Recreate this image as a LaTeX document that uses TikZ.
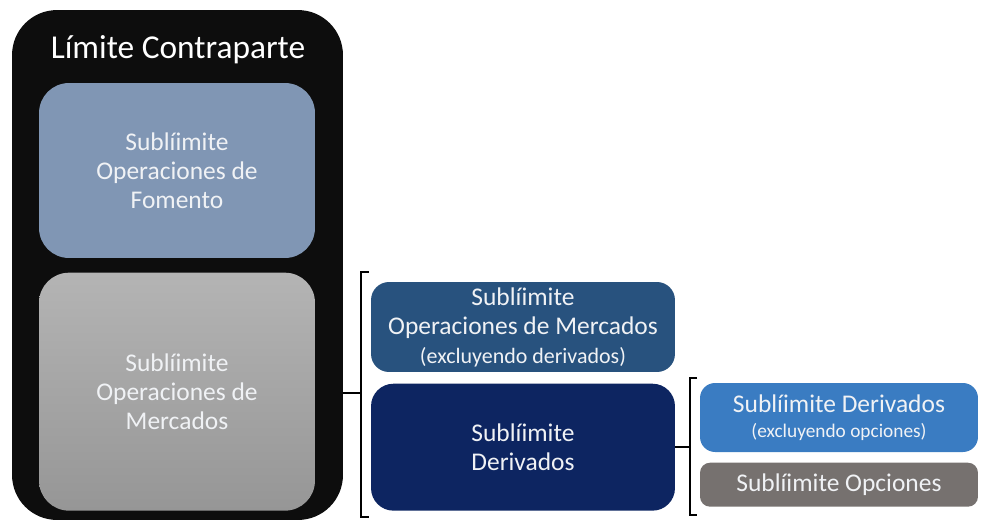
\documentclass[tikz,border=0pt]{standalone}
\usepackage{fontspec}
\setmainfont{Carlito}
\usetikzlibrary{positioning,shadows}
\definecolor{contraparte}{RGB}{13,13,13}
\definecolor{fomento}{RGB}{128,150,180}
\definecolor{mercalto}{RGB}{180,180,180}
\definecolor{mercbajo}{RGB}{150,150,150}
\definecolor{opmerc}{RGB}{40,82,126}
\definecolor{derivados}{RGB}{13,37,97}
\definecolor{derivexcl}{RGB}{58,124,194}
\definecolor{opciones}{RGB}{118,113,111}
\definecolor{texto}{RGB}{240,242,245}

\tikzset{
  caja/.style={rounded corners=#1, text=texto, align=center, inner sep=0pt,
    font=\fontsize{14.5}{16.5}\selectfont},
  llave/.style={line width=1.1pt, black}
}

\begin{document}
\begin{tikzpicture}[x=0.02cm,y=-0.02cm]
\useasboundingbox (0,0) rectangle (981,525);

% limite total
\node [caja=0.9cm, fill=contraparte, minimum width=6.62cm, minimum height=10.2cm] (contra) at (177.5,265) {};
\node [text=white, font=\fontsize{19}{23}\selectfont] (titulo) at (178,50) {Límite Contraparte};

\node [caja=0.6cm, fill=fomento, minimum width=5.52cm, minimum height=3.5cm] (fomento) at (177,170.5)
  {Sublíimite\\Operaciones de\\Fomento};
\node [caja=0.6cm, top color=mercalto, bottom color=mercbajo, minimum width=5.52cm, minimum height=4.76cm,
  below=0.28cm of fomento] (merc) {Sublíimite\\Operaciones de\\Mercados};

% mercados
\node [caja=0.36cm, fill=opmerc, minimum width=6.08cm, minimum height=1.8cm] (opmerc) at (523,327)
  {Sublíimite\\Operaciones de Mercados\\{\fontsize{12.5}{14}\selectfont (excluyendo derivados)}};
\node [caja=0.45cm, fill=derivados, minimum width=6.08cm, minimum height=2.54cm,
  below=0.22cm of opmerc] (deriv) {Sublíimite\\Derivados};

% derivados
\node [caja=0.3cm, fill=derivexcl, minimum width=5.56cm, minimum height=1.38cm] (derivexcl) at (839,417.5)
  {Sublíimite Derivados\\[-2pt]{\fontsize{11}{12}\selectfont (excluyendo opciones)}};
\node [caja=0.2cm, fill=opciones, minimum width=5.56cm, minimum height=0.88cm,
  below=0.2cm of derivexcl] (opc) {Sublíimite Opciones};

% llaves
\coordinate (ll1) at (361,393);
\draw [llave] (contra.east |- ll1) -- (ll1);
\draw [llave] (369,272) -- (361,272) -- (361,517) -- (369,517);
\coordinate (ll2) at (690,447);
\draw [llave] (deriv.east |- ll2) -- (ll2);
\draw [llave] (697,378) -- (690,378) -- (690,515) -- (697,515);

\end{tikzpicture}
\end{document}
